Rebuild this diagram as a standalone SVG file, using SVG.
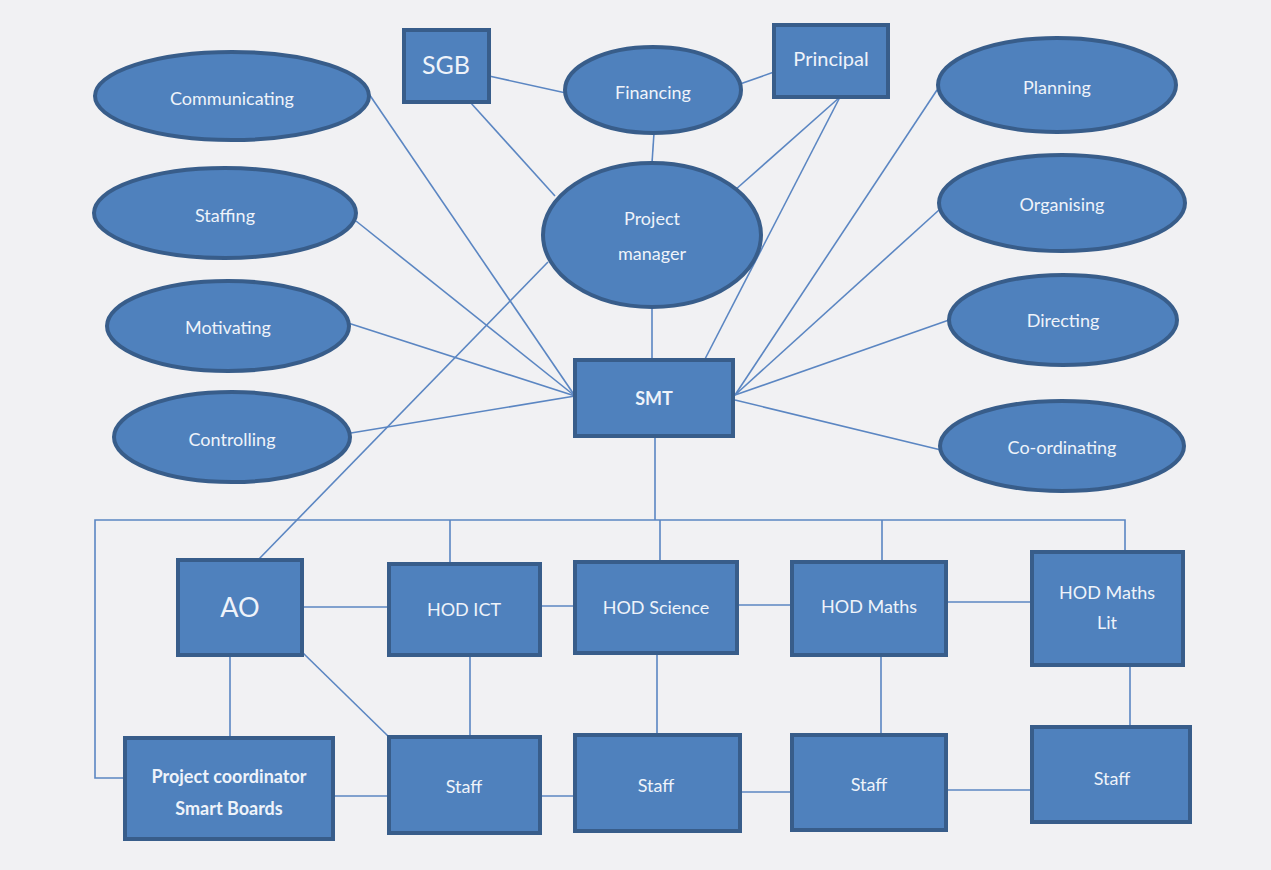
<svg xmlns="http://www.w3.org/2000/svg" width="1271" height="870" viewBox="0 0 1271 870">
<style>
.n{fill:#4f81bd;stroke:#385d8a;stroke-width:4}
.t{fill:#eef3fa;font-family:Lato,"Open Sans",sans-serif;font-size:18px;text-anchor:middle;dominant-baseline:central}
.b{font-weight:bold}
.c line,.c polyline{stroke:#5b86c2;stroke-width:1.6;fill:none}
</style>
<rect width="1271" height="870" fill="#f1f1f3"/>
<g class="c" id="connectors">
<line x1="489" y1="76" x2="566" y2="93"/>
<line x1="740" y1="84" x2="774" y2="72"/>
<line x1="470" y1="102" x2="555" y2="196"/>
<line x1="654" y1="133" x2="652" y2="163"/>
<line x1="840" y1="97" x2="735" y2="190"/>
<line x1="840" y1="97" x2="705" y2="359"/>
<line x1="652" y1="307" x2="652" y2="359"/>
<line x1="937" y1="90" x2="735" y2="395"/>
<line x1="939" y1="210" x2="735" y2="395"/>
<line x1="949" y1="320" x2="735" y2="395"/>
<line x1="941" y1="450" x2="735" y2="400"/>
<line x1="369" y1="94" x2="575" y2="396"/>
<line x1="356" y1="221" x2="575" y2="396"/>
<line x1="348" y1="323" x2="575" y2="396"/>
<line x1="351" y1="433" x2="575" y2="396"/>
<line x1="548" y1="262" x2="258" y2="560"/>
<line x1="655" y1="436" x2="655" y2="520"/>
<polyline points="125,778 95,778 95,520 1125,520 1125,552"/>
<line x1="450" y1="520" x2="450" y2="563"/>
<line x1="660" y1="520" x2="660" y2="562"/>
<line x1="882" y1="520" x2="882" y2="562"/>
<line x1="302" y1="607" x2="389" y2="607"/>
<line x1="540" y1="606" x2="575" y2="606"/>
<line x1="737" y1="605" x2="792" y2="605"/>
<line x1="946" y1="602" x2="1032" y2="602"/>
<line x1="230" y1="655" x2="230" y2="738"/>
<line x1="302" y1="652" x2="389" y2="737"/>
<line x1="470" y1="655" x2="470" y2="736"/>
<line x1="657" y1="653" x2="657" y2="735"/>
<line x1="881" y1="655" x2="881" y2="735"/>
<line x1="1130" y1="665" x2="1130" y2="727"/>
<line x1="333" y1="796" x2="389" y2="796"/>
<line x1="540" y1="796" x2="575" y2="796"/>
<line x1="740" y1="792" x2="792" y2="792"/>
<line x1="946" y1="790" x2="1032" y2="790"/>
</g>
<g id="communicating"><ellipse class="n" cx="232" cy="96" rx="137" ry="44"/><text class="t" x="232" y="98">Communicating</text></g>
<g id="staffing"><ellipse class="n" cx="225" cy="213" rx="131" ry="45"/><text class="t" x="225" y="215">Staffing</text></g>
<g id="motivating"><ellipse class="n" cx="228" cy="326" rx="121" ry="45"/><text class="t" x="228" y="327">Motivating</text></g>
<g id="controlling"><ellipse class="n" cx="232" cy="437" rx="118" ry="45"/><text class="t" x="232" y="439">Controlling</text></g>
<g id="sgb"><rect class="n" x="404" y="30" width="85" height="72"/><text class="t" x="446" y="64" style="font-size:25px">SGB</text></g>
<g id="financing"><ellipse class="n" cx="653" cy="90" rx="88" ry="43"/><text class="t" x="653" y="92">Financing</text></g>
<g id="principal"><rect class="n" x="774" y="25" width="114" height="72"/><text class="t" x="831" y="58" style="font-size:20px">Principal</text></g>
<g id="planning"><ellipse class="n" cx="1057" cy="85" rx="119" ry="47"/><text class="t" x="1057" y="87">Planning</text></g>
<g id="organising"><ellipse class="n" cx="1062" cy="203" rx="123" ry="48"/><text class="t" x="1062" y="204">Organising</text></g>
<g id="directing"><ellipse class="n" cx="1063" cy="320" rx="114" ry="45"/><text class="t" x="1063" y="320">Directing</text></g>
<g id="coordinating"><ellipse class="n" cx="1062" cy="446" rx="122" ry="45"/><text class="t" x="1062" y="447">Co-ordinating</text></g>
<g id="project-manager"><ellipse class="n" cx="652" cy="235" rx="109" ry="72"/><text class="t" x="652" y="218">Project</text><text class="t" x="652" y="253">manager</text></g>
<g id="smt"><rect class="n" x="575" y="360" width="158" height="76"/><text class="t b" x="654" y="398">SMT</text></g>
<g id="ao"><rect class="n" x="178" y="560" width="124" height="95"/><text class="t" x="240" y="606" style="font-size:27px">AO</text></g>
<g id="hod-ict"><rect class="n" x="389" y="564" width="151" height="91"/><text class="t" x="464" y="609">HOD ICT</text></g>
<g id="hod-science"><rect class="n" x="575" y="562" width="162" height="91"/><text class="t" x="656" y="607">HOD Science</text></g>
<g id="hod-maths"><rect class="n" x="792" y="562" width="154" height="93"/><text class="t" x="869" y="606">HOD Maths</text></g>
<g id="hod-maths-lit"><rect class="n" x="1032" y="552" width="151" height="113"/><text class="t" x="1107" y="592">HOD Maths</text><text class="t" x="1107" y="622">Lit</text></g>
<g id="project-coordinator"><rect class="n" x="125" y="738" width="208" height="101"/><text class="t b" x="229" y="776">Project coordinator</text><text class="t b" x="229" y="808">Smart Boards</text></g>
<g id="staff1"><rect class="n" x="389" y="737" width="151" height="96"/><text class="t" x="464" y="786">Staff</text></g>
<g id="staff2"><rect class="n" x="575" y="735" width="165" height="96"/><text class="t" x="656" y="785">Staff</text></g>
<g id="staff3"><rect class="n" x="792" y="735" width="154" height="95"/><text class="t" x="869" y="784">Staff</text></g>
<g id="staff4"><rect class="n" x="1032" y="727" width="158" height="95"/><text class="t" x="1112" y="778">Staff</text></g>
</svg>
